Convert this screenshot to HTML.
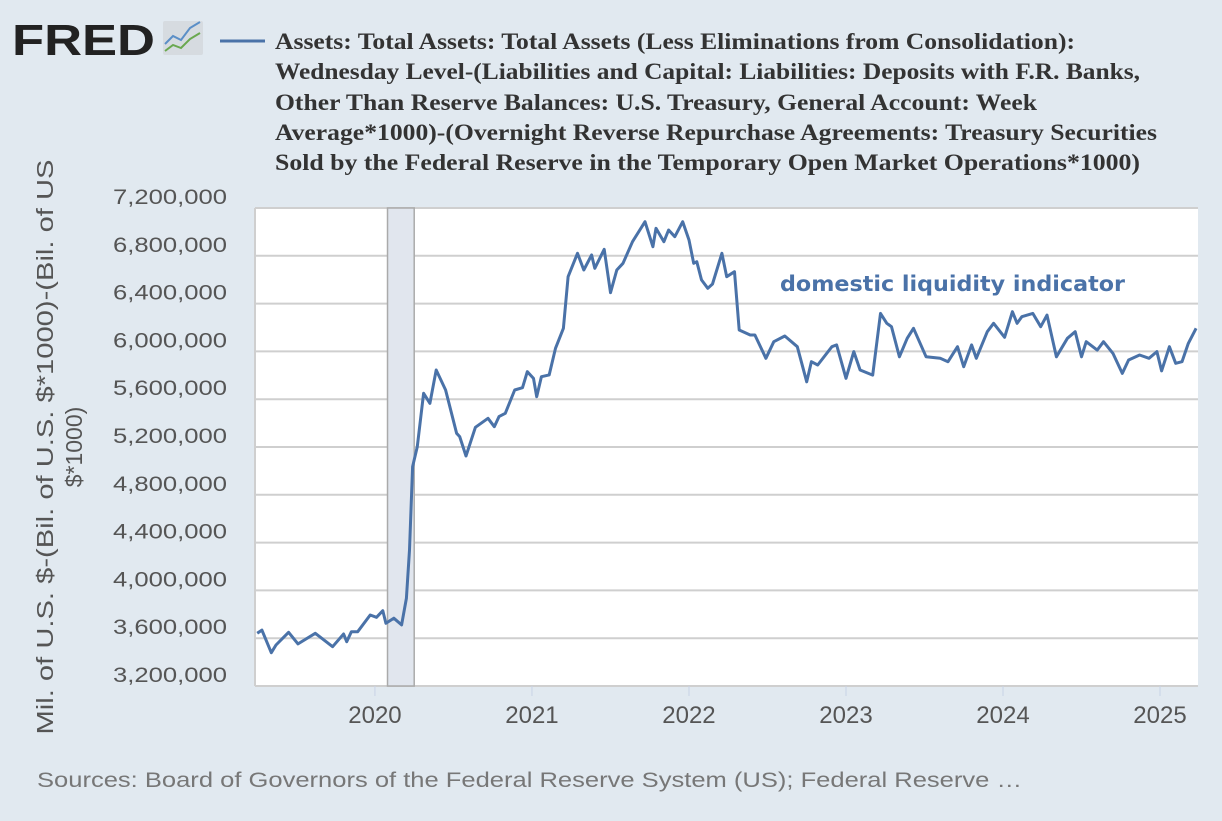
<!DOCTYPE html>
<html><head><meta charset="utf-8"><style>
body{margin:0;background:#e1e9f0;width:1222px;height:816px;overflow:hidden;font-family:"Liberation Sans",sans-serif;}
</style></head><body>
<svg width="1222" height="816">
<rect x="0" y="0" width="1222" height="816" fill="#e1e9f0"/>
<g>
<text x="12" y="55" font-family="Liberation Sans" font-weight="bold" font-size="44" fill="#222" textLength="143" lengthAdjust="spacingAndGlyphs">FRED</text>
<rect x="163" y="21" width="40" height="34" fill="#d6dbe0" rx="2"/>
<polyline points="165,44 173,36 181,40 190,28 200,22" fill="none" stroke="#5b8fc7" stroke-width="2"/>
<polyline points="165,51 173,45 181,48 190,39 200,33" fill="none" stroke="#6aa84f" stroke-width="2"/>
</g>
<line x1="220" y1="41" x2="265" y2="41" stroke="#4a72a8" stroke-width="3"/>
<g font-family="Liberation Serif" font-weight="bold" font-size="23" fill="#333">
<text x="275" y="49" textLength="800" lengthAdjust="spacingAndGlyphs">Assets: Total Assets: Total Assets (Less Eliminations from Consolidation):</text>
<text x="275" y="79" textLength="865" lengthAdjust="spacingAndGlyphs">Wednesday Level-(Liabilities and Capital: Liabilities: Deposits with F.R. Banks,</text>
<text x="275" y="110" textLength="762" lengthAdjust="spacingAndGlyphs">Other Than Reserve Balances: U.S. Treasury, General Account: Week</text>
<text x="275" y="140" textLength="882" lengthAdjust="spacingAndGlyphs">Average*1000)-(Overnight Reverse Repurchase Agreements: Treasury Securities</text>
<text x="275" y="170" textLength="865" lengthAdjust="spacingAndGlyphs">Sold by the Federal Reserve in the Temporary Open Market Operations*1000)</text>
</g>
<g font-size="23" fill="#555" text-anchor="middle">
<text transform="translate(53,447) rotate(-90)" textLength="575" lengthAdjust="spacingAndGlyphs">Mil. of U.S. $-(Bil. of U.S. $*1000)-(Bil. of US</text>
<text transform="translate(82,447) rotate(-90)">$*1000)</text>
</g>
<rect x="255" y="208" width="943" height="478" fill="#fff"/>
<g id="grid"></g><g id="yticks"></g><g id="xticks"></g><g id="rec"></g>
<path id="line" fill="none" stroke="#4a72a8" stroke-width="3" stroke-linejoin="round"/>
<text x="780" y="291" font-family="DejaVu Sans" font-weight="bold" font-size="21" fill="#4a72a8" textLength="345" lengthAdjust="spacingAndGlyphs">domestic liquidity indicator</text>
<text x="37" y="787" font-size="21" fill="#777" textLength="985" lengthAdjust="spacingAndGlyphs">Sources: Board of Governors of the Federal Reserve System (US); Federal Reserve …</text>
</svg>
<script>
const yTicks=[3200000,3600000,4000000,4400000,4800000,5200000,5600000,6000000,6400000,6800000,7200000];
const xTickYears=[2020,2021,2022,2023,2024,2025];
const recession=[2020.08,2020.25];
const dates=[2019.25,2019.28,2019.34,2019.37,2019.45,2019.51,2019.62,2019.73,2019.80,2019.82,2019.85,2019.89,2019.97,2020.01,2020.05,2020.07,2020.12,2020.17,2020.20,2020.22,2020.24,2020.27,2020.31,2020.35,2020.39,2020.45,2020.52,2020.54,2020.58,2020.64,2020.72,2020.76,2020.79,2020.83,2020.89,2020.94,2020.97,2021.01,2021.03,2021.06,2021.11,2021.15,2021.20,2021.23,2021.29,2021.33,2021.38,2021.40,2021.46,2021.50,2021.54,2021.58,2021.64,2021.72,2021.77,2021.79,2021.84,2021.87,2021.91,2021.96,2022.00,2022.03,2022.05,2022.08,2022.12,2022.15,2022.21,2022.24,2022.29,2022.32,2022.39,2022.42,2022.49,2022.54,2022.61,2022.69,2022.75,2022.78,2022.82,2022.91,2022.94,2023.00,2023.05,2023.09,2023.17,2023.22,2023.26,2023.29,2023.34,2023.39,2023.43,2023.51,2023.60,2023.65,2023.71,2023.75,2023.80,2023.83,2023.90,2023.94,2024.01,2024.06,2024.09,2024.12,2024.19,2024.24,2024.28,2024.34,2024.41,2024.46,2024.50,2024.53,2024.60,2024.64,2024.70,2024.76,2024.80,2024.87,2024.93,2024.98,2025.01,2025.06,2025.10,2025.14,2025.18,2025.23];
const values=[3641000,3668000,3479000,3543000,3649000,3552000,3641000,3529000,3635000,3571000,3654000,3654000,3794000,3775000,3830000,3725000,3767000,3711000,3934000,4338000,5035000,5203000,5649000,5566000,5844000,5677000,5315000,5287000,5125000,5365000,5440000,5370000,5454000,5482000,5677000,5696000,5830000,5774000,5621000,5788000,5803000,6026000,6193000,6625000,6821000,6681000,6807000,6695000,6854000,6491000,6681000,6737000,6918000,7085000,6876000,7030000,6918000,7016000,6960000,7085000,6932000,6737000,6751000,6598000,6528000,6564000,6821000,6625000,6667000,6179000,6137000,6137000,5942000,6081000,6129000,6039000,5746000,5914000,5886000,6039000,6054000,5775000,5998000,5844000,5802000,6318000,6235000,6207000,5955000,6110000,6193000,5955000,5942000,5914000,6039000,5872000,6054000,5942000,6165000,6235000,6118000,6332000,6235000,6290000,6318000,6207000,6304000,5955000,6110000,6165000,5955000,6081000,6011000,6081000,5984000,5816000,5928000,5970000,5942000,5998000,5837000,6039000,5900000,5914000,6067000,6193000];
const X0=255,X1=1198,Y0=208,Y1=686,D0=2019.236,D1=2025.242,V0=3200000,V1=7200000;
const sx=d=>X0+(d-D0)/(D1-D0)*(X1-X0);
const sy=v=>Y1-(v-V0)/(V1-V0)*(Y1-Y0);
const NS="http://www.w3.org/2000/svg";
function mk(t,a,p){const e=document.createElementNS(NS,t);for(const k in a)e.setAttribute(k,a[k]);p.appendChild(e);return e;}
const grid=document.getElementById('grid'),yt=document.getElementById('yticks'),xt=document.getElementById('xticks'),rec=document.getElementById('rec');
yTicks.forEach(v=>{
 const g=mk('line',{x1:X0,x2:X1,y1:sy(v),y2:sy(v),stroke:'#cfcfcf','stroke-width':2},grid);
 
 
 const t=mk('text',{x:227,y:sy(v)-4,'text-anchor':'end','font-size':21,fill:'#555',textLength:114,lengthAdjust:'spacingAndGlyphs'},yt);
 t.textContent=v.toLocaleString('en-US');
 
 
});
const lb=mk('line',{x1:X0,x2:X0,y1:Y0,y2:Y1,stroke:'#cfcfcf','stroke-width':2},grid);


xTickYears.forEach(y=>{
 const tk=mk('line',{x1:sx(y),x2:sx(y),y1:Y1,y2:Y1+10,stroke:'#c8d3e6','stroke-width':1},xt);
 
 
 const t=mk('text',{x:sx(y),y:723,'text-anchor':'middle','font-size':24,fill:'#555'},xt);
 t.textContent=y;
 
 
});
const r=mk('rect',{x:sx(recession[0]),y:Y0,width:sx(recession[1])-sx(recession[0]),height:Y1-Y0,fill:'#e1e6ee',stroke:'#aaa','stroke-width':1.5},rec);


document.getElementById('line').setAttribute('d',dates.map((d,i)=>(i?'L':'M')+sx(d).toFixed(1)+','+sy(values[i]).toFixed(1)).join(''));
</script>
</body></html>
